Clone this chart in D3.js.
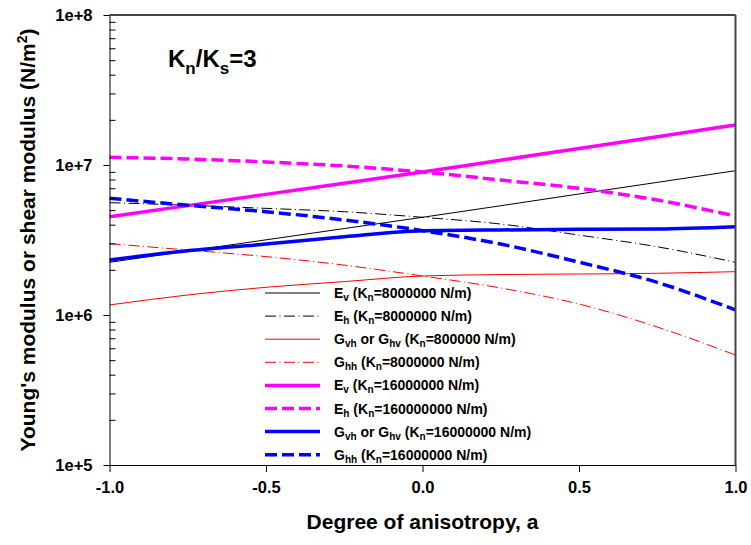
<!DOCTYPE html>
<html>
<head>
<meta charset="utf-8">
<script src="https://cdn.jsdelivr.net/npm/d3@7"></script>
<style>
  html, body { margin: 0; padding: 0; background: #fff; }
  svg { display: block; font-family: "Liberation Sans", Arial, sans-serif; font-weight: bold; }
</style>
</head>
<body>
<svg id="chart" width="751" height="545"></svg>
<script>
// Degree of anisotropy, a
const anisotropy = [-1, -0.75, -0.5, -0.25, 0, 0.25, 0.5, 0.75, 1];

// Moduli (N/m^2), Kn = 8000000 N/m
const evLow   = [2.245e6, 2.67e6, 3.17e6, 3.77e6, 4.48e6, 5.35e6, 6.41e6, 7.66e6, 9.16e6];
const ehLow   = [5.61e6, 5.39e6, 5.14e6, 4.88e6, 4.48e6, 4.04e6, 3.41e6, 2.85e6, 2.245e6];
const gvhLow  = [1.167e6, 1.36e6, 1.53e6, 1.67e6, 1.82e6, 1.86e6, 1.876e6, 1.897e6, 1.945e6];
const ghhLow  = [2.99e6, 2.71e6, 2.45e6, 2.15e6, 1.82e6, 1.514e6, 1.183e6, 8.32e5, 5.41e5];

// Moduli (N/m^2), Kn = 16000000 N/m
const evHigh  = [4.52e6, 5.36e6, 6.37e6, 7.56e6, 8.98e6, 1.076e7, 1.288e7, 1.542e7, 1.85e7];
const ehHigh  = [1.125e7, 1.096e7, 1.047e7, 9.85e6, 8.98e6, 7.94e6, 6.99e6, 5.84e6, 4.57e6];
const gvhHigh = [2.33e6, 2.68e6, 2.97e6, 3.33e6, 3.65e6, 3.69e6, 3.73e6, 3.75e6, 3.88e6];
const ghhHigh = [6.0e6, 5.39e6, 4.88e6, 4.3e6, 3.65e6, 2.97e6, 2.25e6, 1.65e6, 1.08e6];

// Axis ticks
const xTicks = [-1, -0.5, 0, 0.5, 1];
const xTickLabels = ["-1.0", "-0.5", "0.0", "0.5", "1.0"];
const yTicks = [1e5, 1e6, 1e7, 1e8];
const yTickLabels = ["1e+5", "1e+6", "1e+7", "1e+8"];

// Legend entries: [text, kind] pieces
const legendLabels = [
  [["E",""],["v",  "sub"],["  (K",""],["n","sub"],["=8000000 N/m)",""]],
  [["E",""],["h",  "sub"],[" (K",""],["n","sub"],["=8000000 N/m)",""]],
  [["G",""],["vh", "sub"],[" or G",""],["hv","sub"],[" (K",""],["n","sub"],["=800000 N/m)",""]],
  [["G",""],["hh", "sub"],[" (K",""],["n","sub"],["=8000000 N/m)",""]],
  [["E",""],["v",  "sub"],[" (K",""],["n","sub"],["=16000000 N/m)",""]],
  [["E",""],["h",  "sub"],[" (K",""],["n","sub"],["=160000000 N/m)",""]],
  [["G",""],["vh", "sub"],[" or G",""],["hv","sub"],[" (K",""],["n","sub"],["=16000000 N/m)",""]],
  [["G",""],["hh", "sub"],[" (K",""],["n","sub"],["=16000000 N/m)",""]]
];

const seriesList = [
  { values: evLow,   color: "#000000", width: 1,   dash: null },
  { values: ehLow,   color: "#000000", width: 1,   dash: "11,3.5,1,3.5" },
  { values: gvhLow,  color: "#ff0000", width: 1,   dash: null },
  { values: ghhLow,  color: "#ff0000", width: 1,   dash: "11,3.5,1,3.5" },
  { values: evHigh,  color: "#ff00ff", width: 3.5, dash: null },
  { values: ehHigh,  color: "#ff00ff", width: 3.5, dash: "12,5" },
  { values: gvhHigh, color: "#0000ff", width: 3.5, dash: null },
  { values: ghhHigh, color: "#0000ff", width: 3.5, dash: "12,5" }
];

const svg = d3.select("#chart");
const plotLeft = 109.5, plotRight = 735.5, plotTop = 15, plotBottom = 465;

const x = d3.scaleLinear().domain([-1, 1]).range([plotLeft, plotRight]);
const y = d3.scaleLog().domain([1e5, 1e8]).range([plotBottom, plotTop]);

// Curves
const plot = svg.append("g");
const line = d3.line()
  .x(d => x(d[0]))
  .y(d => y(d[1]))
  .curve(d3.curveMonotoneX);

seriesList.forEach(s => {
  plot.append("path")
    .datum(anisotropy.map((a, i) => [a, s.values[i]]))
    .attr("d", line)
    .attr("fill", "none")
    .attr("stroke", s.color)
    .attr("stroke-width", s.width)
    .attr("stroke-dasharray", s.dash);
});

// Frame: top and right edges
svg.append("line").attr("x1", plotLeft).attr("x2", plotRight).attr("y1", plotTop).attr("y2", plotTop)
  .attr("stroke", "#444").attr("stroke-width", 2);
svg.append("line").attr("x1", plotRight).attr("x2", plotRight).attr("y1", plotTop).attr("y2", plotBottom)
  .attr("stroke", "#444").attr("stroke-width", 2);

// Left axis: major ticks outward with labels
const yAxis = d3.axisLeft(y)
  .tickValues(yTicks)
  .tickFormat((d, i) => yTickLabels[i])
  .tickSizeInner(6).tickSizeOuter(0).tickPadding(11);
const gy = svg.append("g").attr("transform", `translate(${plotLeft},0)`).call(yAxis);

// Left axis: minor ticks inward
const minor = [];
[1e5, 1e6, 1e7].forEach(dec => { for (let k = 2; k <= 9; k++) minor.push(dec * k); });
const gyMinor = svg.append("g").attr("transform", `translate(${plotLeft},0)`)
  .call(d3.axisRight(y).tickValues(minor).tickFormat("").tickSizeInner(6).tickSizeOuter(0));
gyMinor.select(".domain").remove();

// Bottom axis
const xAxis = d3.axisBottom(x)
  .tickValues(xTicks)
  .tickFormat((d, i) => xTickLabels[i])
  .tickSizeInner(7).tickSizeOuter(0).tickPadding(9);
const gx = svg.append("g").attr("transform", `translate(0,${plotBottom})`).call(xAxis);

[gy, gx, gyMinor].forEach(g => {
  g.selectAll("path, line").attr("stroke", "#000").attr("stroke-width", 1);
  g.selectAll("text").attr("fill", "#000").style("font-size", "16.5px")
    .style("font-family", "'Liberation Sans', Arial, sans-serif").style("font-weight", "bold");
});

// Axis titles
svg.append("text")
  .attr("x", (plotLeft + plotRight) / 2).attr("y", 529)
  .attr("text-anchor", "middle")
  .style("font-size", "21px")
  .text("Degree of anisotropy, a");

const yTitle = svg.append("text")
  .attr("transform", `translate(35,${(plotTop + plotBottom) / 2}) rotate(-90)`)
  .attr("text-anchor", "middle")
  .style("font-size", "21px");
yTitle.append("tspan").text("Young's modulus or shear modulus (N/m");
yTitle.append("tspan").attr("dy", -8).style("font-size", "14px").text("2");
yTitle.append("tspan").attr("dy", 8).text(")");

// Ratio annotation
const note = svg.append("text").attr("x", 168).attr("y", 67).style("font-size", "24px");
note.append("tspan").text("K");
note.append("tspan").attr("dy", 7).style("font-size", "17px").text("n");
note.append("tspan").attr("dy", -7).text("/K");
note.append("tspan").attr("dy", 7).style("font-size", "17px").text("s");
note.append("tspan").attr("dy", -7).text("=3");

// Legend
const legendTop = 293, legendStep = 23.1;
const legend = svg.append("g");
seriesList.forEach((s, i) => {
  const ly = legendTop + i * legendStep;
  legend.append("line")
    .attr("x1", 265).attr("x2", 320).attr("y1", ly).attr("y2", ly)
    .attr("stroke", s.color).attr("stroke-width", s.width)
    .attr("stroke-dasharray", s.dash);
  const t = legend.append("text").attr("x", 334).attr("y", ly + 5).style("font-size", "14px");
  let shifted = false;
  legendLabels[i].forEach(([txt, kind]) => {
    const sp = t.append("tspan").text(txt);
    if (kind === "sub" && !shifted) { sp.attr("dy", 3).style("font-size", "10px"); shifted = true; }
    else if (kind === "sub") { sp.style("font-size", "10px"); }
    else if (shifted) { sp.attr("dy", -3); shifted = false; }
  });
});
</script>
</body>
</html>
